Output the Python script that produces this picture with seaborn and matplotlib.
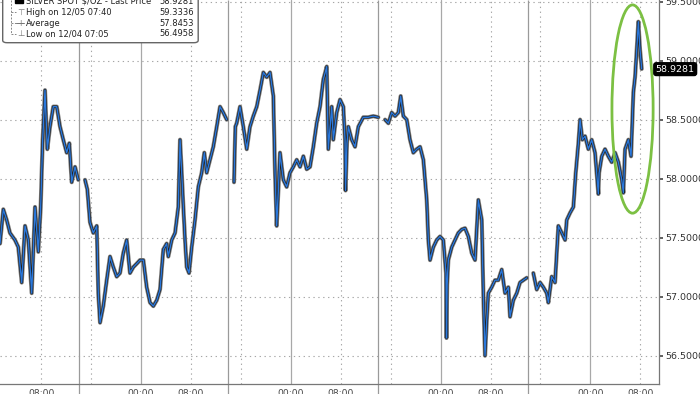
import numpy as np
import pandas as pd
import matplotlib
matplotlib.use("Agg")
import matplotlib.pyplot as plt
import matplotlib.transforms as mtransforms
from matplotlib.patches import Ellipse, FancyBboxPatch, Rectangle
from matplotlib.lines import Line2D
import seaborn as sns

# ---------------- data (hours since 12/01 00:00, price $/oz) ----------------
s1_hours = [1.40, 1.93, 2.47, 3.00, 3.80, 4.33, 4.88, 5.41, 5.94, 6.48, 7.01, 7.54, 7.92,
            8.24, 8.61, 8.98, 9.41, 9.94, 10.49, 11.02, 11.54, 12.09, 12.51, 12.89, 13.42, 13.95]
s1_price = [57.45, 57.74, 57.65, 57.54, 57.48, 57.42, 57.12, 57.60, 57.48, 57.03, 57.76, 57.38, 57.76,
            58.33, 58.75, 58.25, 58.44, 58.61, 58.61, 58.44, 58.33, 58.22, 58.30, 57.97, 58.10, 57.99]

s2_hours = [15.02, 15.39, 15.82, 16.35, 16.90, 17.15, 17.43, 17.95, 18.50, 19.03, 19.56, 20.10, 20.63,
            21.16, 21.70, 22.23, 22.76, 23.31, 23.84, 24.37, 24.91, 25.44, 25.97, 26.52, 27.04, 27.57,
            28.11, 28.37, 28.92, 29.45, 29.97, 30.25, 30.52, 30.78, 31.05, 31.32, 31.69, 32.12, 32.65,
            33.18, 33.72, 34.14, 34.52, 35.05, 35.58, 36.13, 36.66, 37.18, 37.73]
s2_price = [57.99, 57.91, 57.63, 57.54, 57.60, 57.03, 56.78, 56.92, 57.14, 57.34, 57.25, 57.17, 57.20,
            57.37, 57.48, 57.20, 57.25, 57.28, 57.31, 57.31, 57.08, 56.95, 56.92, 56.97, 57.06, 57.40,
            57.45, 57.34, 57.48, 57.54, 57.76, 58.33, 58.05, 57.76, 57.48, 57.25, 57.20, 57.42, 57.65,
            57.93, 58.05, 58.22, 58.05, 58.16, 58.27, 58.44, 58.61, 58.56, 58.50]

s3_hours = [38.90, 39.11, 39.33, 39.86, 40.39, 40.94, 41.46, 41.99, 42.54, 43.07, 43.60, 44.14, 44.67,
            45.20, 45.47, 45.74, 46.00, 46.27, 46.80, 47.34, 47.87, 48.40, 48.95, 49.48, 50.01, 50.55,
            51.08, 51.61, 52.15, 52.68, 53.21, 53.76, 54.01, 54.56, 54.81, 55.36, 55.89, 56.42, 56.69,
            56.77, 57.00, 57.22, 57.76, 58.29, 58.82, 59.62, 60.42, 61.22, 62.02]
s3_price = [57.97, 58.44, 58.47, 58.61, 58.44, 58.25, 58.44, 58.53, 58.61, 58.75, 58.90, 58.86, 58.90,
            58.70, 58.05, 57.60, 57.90, 58.22, 57.99, 57.93, 58.05, 58.10, 58.16, 58.10, 58.19, 58.08,
            58.10, 58.27, 58.47, 58.61, 58.84, 58.95, 58.25, 58.61, 58.33, 58.56, 58.67, 58.61, 58.33,
            57.90, 58.30, 58.44, 58.33, 58.27, 58.44, 58.52, 58.52, 58.53, 58.52]

s4_hours = [63.10, 63.63, 64.17, 64.70, 65.23, 65.61, 66.03, 66.58, 67.10, 67.63, 68.18, 68.71, 69.24,
            69.78, 70.04, 70.31, 70.84, 71.38, 71.91, 72.44, 72.87, 72.95, 73.05, 73.24, 73.79, 74.31,
            74.84, 75.39, 75.92, 76.45, 76.99, 77.52, 78.05, 78.60, 78.85, 79.12, 79.40, 79.65, 80.19,
            80.72, 81.25, 81.80, 82.33, 82.86, 83.13, 83.66, 84.21, 84.73, 85.26, 85.81]
s4_price = [58.50, 58.47, 58.56, 58.53, 58.56, 58.70, 58.53, 58.50, 58.33, 58.22, 58.25, 58.27, 58.16,
            57.82, 57.48, 57.31, 57.42, 57.48, 57.51, 57.48, 57.20, 56.65, 57.10, 57.31, 57.42, 57.48,
            57.54, 57.57, 57.58, 57.51, 57.37, 57.31, 57.82, 57.65, 57.03, 56.50, 56.80, 57.03, 57.08,
            57.14, 57.14, 57.23, 57.03, 57.08, 56.83, 56.97, 57.03, 57.12, 57.14, 57.16]

s5_hours = [86.86, 87.41, 87.94, 88.47, 89.01, 89.27, 89.81, 90.34, 90.87, 91.42, 91.95, 92.22, 92.75,
            93.28, 93.66, 94.08, 94.35, 94.72, 95.15, 95.68, 96.22, 96.75, 97.28, 97.40, 97.83, 98.35,
            98.88, 99.42, 99.96, 100.49, 101.03, 101.29, 101.56, 102.09, 102.52, 102.89, 103.16, 103.43,
            103.69, 103.96, 104.23]
s5_price = [57.20, 57.06, 57.12, 57.08, 57.03, 56.95, 57.17, 57.12, 57.60, 57.54, 57.48, 57.65, 57.71,
            57.76, 58.05, 58.30, 58.50, 58.33, 58.36, 58.25, 58.33, 58.22, 57.87, 58.05, 58.19, 58.25,
            58.19, 58.14, 58.22, 58.14, 57.99, 57.88, 58.25, 58.33, 58.19, 58.73, 58.86, 59.09,
            59.33, 59.09, 58.93]

legend_labels = ["SILVER SPOT $/OZ - Last Price", "High on 12/05 07:40", "Average", "Low on 12/04 07:05"]
legend_values = ["58.9281", "59.3336", "57.8453", "56.4958"]
last_price = 58.9281

xtick_hours = [8, 24, 32, 48, 56, 72, 80, 96, 104]
xtick_labels = ["08:00", "00:00", "08:00", "00:00", "08:00", "00:00", "08:00", "00:00", "08:00"]
ytick_values = [56.5, 57.0, 57.5, 58.0, 58.5, 59.0, 59.5]
midnight_hours = [24, 48, 72, 96]
session_break_hours = [14, 38, 62, 86]
dotted_hours = [8, 16, 32, 40, 56, 64, 80, 88, 104]

# ---------------- frame ----------------
sessions = [(s1_hours, s1_price), (s2_hours, s2_price), (s3_hours, s3_price),
            (s4_hours, s4_price), (s5_hours, s5_price)]
df = pd.concat([pd.DataFrame({"hour": h, "price": p, "session": i})
                for i, (h, p) in enumerate(sessions)], ignore_index=True)

sns.set_style("white")
plt.rcParams["font.family"] = ["DejaVu Sans"]

fig = plt.figure(figsize=(7.0, 3.94), dpi=100)
ax = fig.add_axes([0.0, 10 / 394, 659 / 700, 384 / 394])

# grid
for yv in ytick_values:
    ax.axhline(yv, color="#a6a6a6", lw=0.8, ls=(0, (1.2, 3.2)), zorder=0)
for xv in dotted_hours:
    ax.axvline(xv, color="#a6a6a6", lw=0.8, ls=(0, (1.2, 3.2)), zorder=0)
for xv in midnight_hours:
    ax.axvline(xv, color="#a8a8a8", lw=0.9, zorder=0)
trans = mtransforms.blended_transform_factory(ax.transData, ax.transAxes)
ax.vlines(session_break_hours, -0.03, 1.0, transform=trans, color="#9a9a9a", lw=0.9,
          clip_on=False, zorder=0)

# price series: dark bar bodies beneath, blue line above
sns.lineplot(data=df, x="hour", y="price", units="session", estimator=None, sort=False,
             color="#7a7a7a", lw=3.0, ax=ax, legend=False)
sns.lineplot(data=df, x="hour", y="price", units="session", estimator=None, sort=False,
             color="#1c1c1c", lw=1.8, ax=ax, legend=False)
sns.lineplot(data=df, x="hour", y="price", units="session", estimator=None, sort=False,
             color="#2a78dc", lw=1.0, ax=ax, legend=False)

# green highlight ellipse
ax.add_patch(Ellipse((102.76, 58.59), 6.6, 1.765, fill=False, edgecolor="#7cc043", lw=2.0,
                     zorder=5))

ax.set_xlim(1.40, 107.0)
ax.set_ylim(56.26, 59.514)
ax.set_xlabel("")
ax.set_ylabel("")

# axes styling
for side in ["top", "left"]:
    ax.spines[side].set_visible(False)
for side in ["right", "bottom"]:
    ax.spines[side].set_color("#777777")
    ax.spines[side].set_linewidth(0.9)

ax.yaxis.tick_right()
ax.set_yticks(ytick_values)
ax.set_yticklabels([f"{v:.4f}" for v in ytick_values])
ax.tick_params(axis="y", which="major", direction="out", length=3, width=1.2, color="#444444",
               pad=1.5, labelsize=6.8, labelcolor="#333333")
ax.set_xticks(xtick_hours)
ax.set_xticklabels(xtick_labels)
ax.set_xticks(np.arange(4, 107, 4), minor=True)
ax.tick_params(axis="x", which="both", direction="out", length=2.5, width=0.8, color="#555555",
               pad=1.0, labelsize=6.6, labelcolor="#444444")

# last price tag
tag_trans = mtransforms.blended_transform_factory(ax.transAxes, ax.transData)
ax.text(0.995, last_price, legend_values[0], transform=tag_trans, ha="left", va="center",
        fontsize=6.8, color="white", clip_on=False, zorder=10,
        bbox=dict(boxstyle="round,pad=0.2,rounding_size=0.25", fc="black", ec="black"))

# legend box (figure pixel coordinates converted to fractions)
W, H = 700.0, 394.0
box = FancyBboxPatch((2.7 / W, (H - 42.7) / H), 195.5 / W, 60 / H,
                     boxstyle="round,pad=0,rounding_size=0.006", transform=fig.transFigure,
                     fc="white", ec="#666666", lw=1.0, zorder=20)
fig.patches.append(box)
row_y = [1.0, 12.3, 23.3, 33.7]
for lbl, val, ry in zip(legend_labels, legend_values, row_y):
    yy = (H - ry) / H
    fig.text(26 / W, yy, lbl, ha="left", va="center", fontsize=6.0, color="#222222", zorder=21)
    fig.text(194 / W, yy, val, ha="right", va="center", fontsize=6.0, color="#222222", zorder=21)
# tree lines and icons
fig.lines.append(Line2D([11 / W, 11 / W], [(H - 0) / H, (H - 33.7) / H], transform=fig.transFigure,
                        color="#888888", lw=0.7, ls=(0, (2, 1.5)), zorder=21))
for ry in row_y[1:]:
    yy = (H - ry) / H
    fig.lines.append(Line2D([11 / W, 16 / W], [yy, yy], transform=fig.transFigure,
                            color="#888888", lw=0.7, ls=(0, (2, 1.5)), zorder=21))
fig.patches.append(Rectangle((15 / W, (H - 3) / H), 8 / W, 5 / H, transform=fig.transFigure,
                             fc="black", ec="black", zorder=21))
fig.text(20.5 / W, (H - row_y[1]) / H, "⊤", ha="center", va="center", fontsize=6, color="#777777",
         zorder=21)
fig.lines.append(Line2D([16 / W, 24 / W], [(H - row_y[2]) / H] * 2, transform=fig.transFigure,
                        color="#777777", lw=0.7, zorder=21))
fig.text(20.5 / W, (H - row_y[2]) / H, "+", ha="center", va="center", fontsize=5.5, color="#777777",
         zorder=22)
fig.text(20.5 / W, (H - row_y[3]) / H, "⊥", ha="center", va="center", fontsize=6, color="#777777",
         zorder=21)

fig.savefig("out.png", dpi=100)
